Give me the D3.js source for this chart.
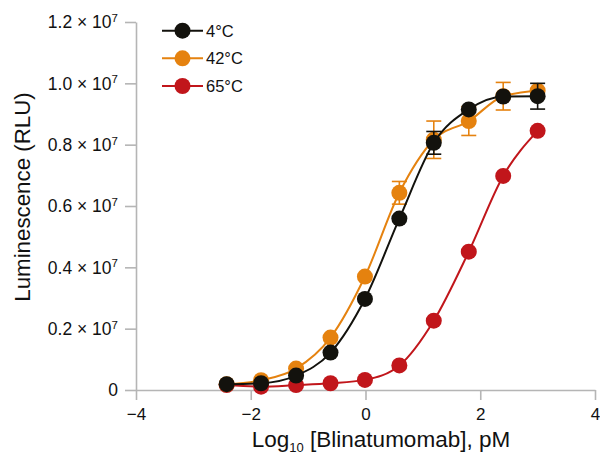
<!DOCTYPE html>
<html><head><meta charset="utf-8">
<script src="https://cdn.jsdelivr.net/npm/d3@7"></script>
<style>
html,body{margin:0;padding:0;background:#fff;}
svg text{font-family:"Liberation Sans",Arial,sans-serif;fill:#111;}
</style></head>
<body><svg id="chart" width="600" height="465"></svg>
<script>
// Data (luminescence in units of 1e7 RLU)
const logConc = [-2.42, -1.82, -1.21, -0.61, -0.01, 0.59, 1.19, 1.80, 2.40, 3.00];
const series4C  = [0.019, 0.022, 0.047, 0.122, 0.297, 0.559, 0.806, 0.915, 0.957, 0.958];
const err4C     = [0, 0, 0, 0, 0, 0, 0.037, 0, 0, 0.042];
const series42C = [0.019, 0.032, 0.070, 0.171, 0.370, 0.643, 0.816, 0.877, 0.958, 0.976];
const err42C    = [0, 0, 0, 0, 0, 0.037, 0.061, 0.047, 0.045, 0];
const series65C = [0.016, 0.011, 0.016, 0.022, 0.033, 0.080, 0.226, 0.451, 0.698, 0.845];
const err65C    = [0, 0, 0, 0, 0, 0, 0, 0, 0, 0];
const seriesNames = ["4°C", "42°C", "65°C"];
const seriesColors = ["#13120d", "#e5820f", "#c1161b"];
const yTicks = [0, 0.2, 0.4, 0.6, 0.8, 1.0, 1.2];
const yTickLabels = ["0", "0.2", "0.4", "0.6", "0.8", "1.0", "1.2"];
const xTicks = [-4, -2, 0, 2, 4];
const xTickLabels = ["\u22124", "\u22122", "0", "2", "4"];

const svg = d3.select("#chart");
const x = d3.scaleLinear().domain([-4, 4]).range([136, 595]);
const y = d3.scaleLinear().domain([0, 1.2]).range([390, 22]);
const axisColor = "#b5b5b5";

// Y axis
const yAxis = svg.append("g").attr("transform", `translate(${x(-4)},0)`)
  .call(d3.axisLeft(y).tickValues(yTicks).tickSize(11).tickSizeOuter(0).tickPadding(7).tickFormat(""));
yAxis.selectAll(".tick text").each(function(d, i) {
  const t = d3.select(this).style("font-size", "17.5px").attr("dy", "0.34em");
  t.text(null);
  if (yTickLabels[i] === "0") { t.text("0"); return; }
  t.append("tspan").text(yTickLabels[i] + " \u00d7 10");
  t.append("tspan").attr("dy", "-6.5").style("font-size", "11.5px").text("7");
});
// X axis
const xAxis = svg.append("g").attr("transform", `translate(0,${y(0)})`)
  .call(d3.axisBottom(x).tickValues(xTicks).tickSize(10).tickSizeOuter(0).tickPadding(8)
    .tickFormat((d, i) => xTickLabels[i]));
xAxis.selectAll(".tick text").style("font-size", "17px");
[yAxis, xAxis].forEach(a => {
  a.select(".domain").attr("stroke", axisColor).attr("stroke-width", 1.6);
  a.selectAll(".tick line").attr("stroke", axisColor).attr("stroke-width", 1.6);
  a.selectAll(".tick text").attr("fill", "#111").style("font-family", "'Liberation Sans',Arial,sans-serif");
});

// Axis titles
const xt = svg.append("text").attr("x", 381).attr("y", 447).attr("text-anchor", "middle").style("font-size", "22.5px");
xt.append("tspan").text("Log");
xt.append("tspan").attr("dy", 5).style("font-size", "13px").text("10");
xt.append("tspan").attr("dy", -5).text(" [Blinatumomab], pM");
svg.append("text").attr("transform", "translate(30,197) rotate(-90)").attr("text-anchor", "middle")
  .style("font-size", "22.3px").text("Luminescence (RLU)");

// Series
const allVals = [series65C, series42C, series4C];
const allErr = [err65C, err42C, err4C];
const order = [2, 1, 0];
const line = d3.line().x(d => x(d[0])).y(d => y(d[1])).curve(d3.curveMonotoneX);
order.forEach((si, k) => {
  const vals = allVals[k], errs = allErr[k], color = seriesColors[si];
  const pts = logConc.map((c, i) => [c, vals[i], errs[i]]);
  const g = svg.append("g");
  g.append("path").datum(pts).attr("d", line).attr("fill", "none").attr("stroke", color).attr("stroke-width", 2);
  const eb = g.selectAll(".eb").data(pts.filter(p => p[2] > 0)).enter().append("g");
  eb.append("line").attr("x1", d => x(d[0])).attr("x2", d => x(d[0]))
    .attr("y1", d => y(d[1] - d[2])).attr("y2", d => y(d[1] + d[2])).attr("stroke", color).attr("stroke-width", 1.6);
  [1, -1].forEach(s => eb.append("line").attr("x1", d => x(d[0]) - 7.5).attr("x2", d => x(d[0]) + 7.5)
    .attr("y1", d => y(d[1] + s * d[2])).attr("y2", d => y(d[1] + s * d[2])).attr("stroke", color).attr("stroke-width", 1.6));
  g.selectAll("circle").data(pts).enter().append("circle")
    .attr("cx", d => x(d[0])).attr("cy", d => y(d[1])).attr("r", 8).attr("fill", color);
});

// Legend
const legY = [30.7, 58.3, 86];
seriesNames.forEach((name, i) => {
  const g = svg.append("g");
  g.append("line").attr("x1", 162).attr("x2", 203).attr("y1", legY[i]).attr("y2", legY[i])
    .attr("stroke", seriesColors[i]).attr("stroke-width", 2);
  g.append("circle").attr("cx", 182.5).attr("cy", legY[i]).attr("r", 8).attr("fill", seriesColors[i]);
  g.append("text").attr("x", 206).attr("y", legY[i]).attr("dy", "0.36em").style("font-size", "16.5px").text(name);
});
</script></body></html>
